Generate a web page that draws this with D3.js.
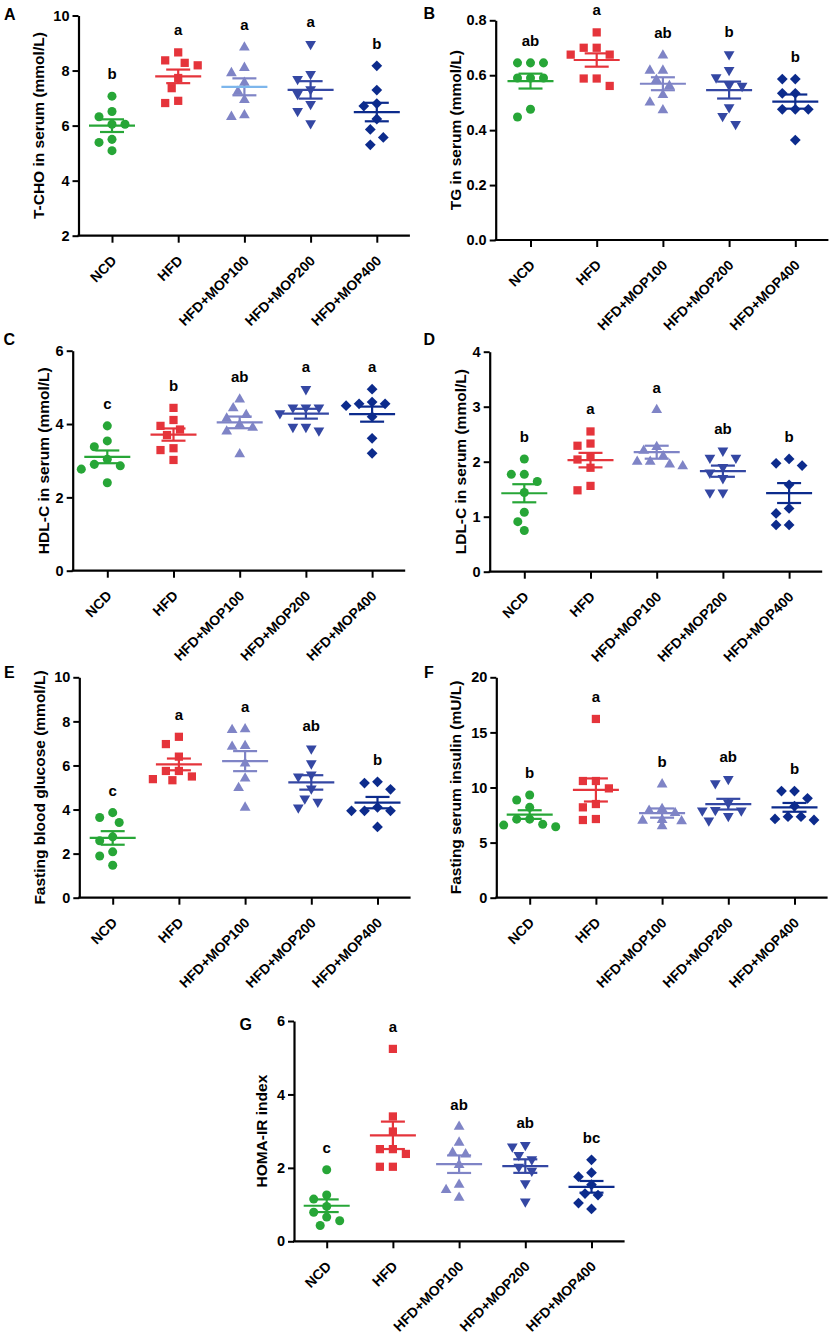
<!DOCTYPE html>
<html><head><meta charset="utf-8">
<script src="https://cdn.jsdelivr.net/npm/d3@7"></script>
<style>
body{margin:0;background:#fff;}
svg{display:block;}
text{font-family:"Liberation Sans",Arial,Helvetica,sans-serif;font-weight:bold;fill:#000;}
</style>
</head><body>
<svg id="chart" width="834" height="1339"></svg>
<script>
// ---------- DATA ----------
const groups = ["NCD", "HFD", "HFD+MOP100", "HFD+MOP200", "HFD+MOP400"];

// A: T-CHO (mmol/L)
const tchoValues = [
  [7.07, 6.51, 6.32, 6.05, 6.05, 5.50, 5.39, 5.09],
  [8.66, 8.37, 8.28, 8.19, 7.73, 7.36, 6.90, 6.82],
  [8.84, 8.10, 7.91, 7.56, 7.23, 6.93, 6.38, 6.32],
  [8.96, 7.87, 7.69, 7.32, 7.15, 6.78, 6.53, 6.08],
  [8.17, 7.29, 6.80, 6.71, 6.24, 5.86, 5.57, 5.30]
];
const tchoLetters = ["b", "a", "a", "a", "b"];
const tchoTicks = [2, 4, 6, 8, 10];

// B: TG (mmol/L)
const tgValues = [
  [0.645, 0.645, 0.645, 0.590, 0.590, 0.590, 0.476, 0.448],
  [0.756, 0.700, 0.700, 0.675, 0.675, 0.588, 0.588, 0.561],
  [0.672, 0.617, 0.617, 0.583, 0.561, 0.528, 0.501, 0.473],
  [0.676, 0.619, 0.592, 0.564, 0.561, 0.483, 0.451, 0.422],
  [0.586, 0.586, 0.534, 0.534, 0.476, 0.476, 0.476, 0.364]
];
const tgLetters = ["ab", "a", "ab", "b", "b"];
const tgTicks = [0, 0.2, 0.4, 0.6, 0.8];

// C: HDL-C (mmol/L)
const hdlValues = [
  [3.95, 3.54, 3.38, 3.04, 2.90, 2.86, 2.77, 2.40],
  [4.44, 4.11, 3.95, 3.85, 3.70, 3.34, 3.29, 3.02],
  [4.67, 4.43, 4.25, 4.15, 3.98, 3.90, 3.80, 3.18],
  [4.95, 4.45, 4.45, 4.45, 4.29, 3.92, 3.92, 3.82],
  [4.95, 4.60, 4.55, 4.55, 4.50, 4.20, 3.61, 3.20]
];
const hdlLetters = ["c", "b", "ab", "a", "a"];
const hdlTicks = [0, 2, 4, 6];

// D: LDL-C (mmol/L)
const ldlValues = [
  [2.05, 1.77, 1.77, 1.64, 1.44, 1.08, 0.91, 0.75],
  [2.55, 2.33, 2.29, 2.09, 2.04, 1.89, 1.56, 1.48],
  [2.94, 2.27, 2.20, 2.10, 2.00, 2.00, 1.95, 1.92],
  [2.20, 2.07, 2.07, 1.90, 1.80, 1.70, 1.44, 1.44],
  [2.05, 1.97, 1.93, 1.58, 1.15, 1.06, 0.85, 0.85]
];
const ldlLetters = ["b", "a", "a", "ab", "b"];
const ldlTicks = [0, 1, 2, 3, 4];

// E: Fasting blood glucose (mmol/L)
const fbgValues = [
  [3.86, 3.64, 3.41, 2.76, 2.58, 2.08, 1.89, 1.47],
  [7.30, 6.97, 6.40, 5.75, 5.75, 5.50, 5.38, 5.33],
  [7.65, 7.61, 6.89, 6.85, 6.09, 5.41, 4.98, 4.09],
  [6.77, 6.09, 5.59, 5.50, 4.95, 4.50, 4.35, 4.09],
  [5.26, 5.20, 4.92, 4.10, 3.94, 3.94, 3.94, 3.21]
];
const fbgLetters = ["c", "a", "a", "ab", "b"];
const fbgTicks = [0, 2, 4, 6, 8, 10];

// F: Fasting serum insulin (mU/L)
const finsValues = [
  [9.32, 8.87, 8.20, 7.13, 7.13, 6.67, 6.59, 6.44],
  [16.22, 10.59, 10.59, 9.92, 8.50, 8.20, 7.14, 7.05],
  [10.29, 8.05, 7.90, 7.70, 7.05, 7.00, 6.95, 6.50],
  [10.77, 10.38, 8.60, 7.95, 7.90, 7.90, 7.40, 7.00],
  [9.68, 9.68, 9.02, 8.30, 7.35, 7.35, 7.15, 7.05]
];
const finsLetters = ["b", "a", "b", "ab", "b"];
const finsTicks = [0, 5, 10, 15, 20];

// G: HOMA-IR index
const homaValues = [
  [1.95, 1.26, 1.15, 0.95, 0.79, 0.66, 0.56, 0.43],
  [5.24, 3.40, 2.99, 2.51, 2.51, 2.38, 2.03, 2.03],
  [3.12, 2.69, 2.41, 2.37, 2.08, 1.54, 1.40, 1.19],
  [2.62, 2.58, 2.35, 2.23, 2.03, 1.92, 1.58, 1.08],
  [2.22, 1.87, 1.76, 1.54, 1.30, 1.26, 1.04, 0.88]
];
const homaLetters = ["c", "a", "ab", "ab", "bc"];
const homaTicks = [0, 2, 4, 6];

// ---------- STYLE / LAYOUT ----------
const colors = ["#27a637", "#e5343b", "#7f84c6", "#3447a3", "#0c2b8c"];
const symbolKinds = ["circle", "square", "triangle", "triangleDown", "diamond"];
const step = 66.2;

const panels = [
  {id: "A", values: tchoValues, letters: tchoLetters, ticks: tchoTicks, title: "T-CHO in serum (mmol/L)", fmt: d3.format("d"),
   frame: {axisX: 78.5, first: 112, yTop: 15.5, yBot: 235.7, titleOff: 40, lx: 4, ly: 19.5}, meanColor: {2: "#7db6ec"}},
  {id: "B", values: tgValues, letters: tgLetters, ticks: tgTicks, title: "TG in serum (mmol/L)", fmt: d3.format(".1f"),
   frame: {axisX: 495.7, first: 530.5, yTop: 20.3, yBot: 240, titleOff: 40.5, lx: 423.5, ly: 18.5}},
  {id: "C", values: hdlValues, letters: hdlLetters, ticks: hdlTicks, title: "HDL-C in serum (mmol/L)", fmt: d3.format("d"),
   frame: {axisX: 72.7, first: 107.3, yTop: 350.7, yBot: 570.7, titleOff: 29.5, lx: 3.5, ly: 345}},
  {id: "D", values: ldlValues, letters: ldlLetters, ticks: ldlTicks, title: "LDL-C in serum (mmol/L)", fmt: d3.format("d"),
   frame: {axisX: 489.7, first: 524.3, yTop: 351.7, yBot: 571.7, titleOff: 29.5, lx: 423.5, ly: 344.5}},
  {id: "E", values: fbgValues, letters: fbgLetters, ticks: fbgTicks, title: "Fasting blood glucose (mmol/L)", fmt: d3.format("d"),
   frame: {axisX: 79.3, first: 112.7, yTop: 677.3, yBot: 897.7, titleOff: 40, lx: 4, ly: 677.7}},
  {id: "F", values: finsValues, letters: finsLetters, ticks: finsTicks, title: "Fasting serum insulin (mU/L)", fmt: d3.format("d"),
   frame: {axisX: 496.3, first: 529.7, yTop: 677.3, yBot: 897.7, titleOff: 41, lx: 424, ly: 677.7}},
  {id: "G", values: homaValues, letters: homaLetters, ticks: homaTicks, title: "HOMA-IR index", fmt: d3.format("d"),
   frame: {axisX: 294, first: 326.7, yTop: 1021, yBot: 1241.3, titleOff: 32, lx: 239.5, ly: 1030}}
];

const svg = d3.select("#chart");
svg.append("rect").attr("width", 834).attr("height", 1339).attr("fill", "#fff");

function symbolPath(kind) {
  switch (kind) {
    case "circle": return d3.symbol(d3.symbolCircle, 64)();
    case "square": return d3.symbol(d3.symbolSquare, 68)();
    case "triangle": return d3.symbol(d3.symbolTriangle, 50)();
    case "triangleDown": return d3.symbol(d3.symbolTriangle, 50)();
    case "diamond": return d3.symbol(d3.symbolSquare, 58)();
  }
}
function symbolRotate(kind) {
  return kind === "triangleDown" ? 180 : (kind === "diamond" ? 45 : 0);
}

// simple beeswarm: place points (by descending value) at nearest free lateral slot
function swarm(vals, y) {
  const order = d3.range(vals.length).sort((a, b) => vals[b] - vals[a]);
  const cands = [0, -6.5, 6.5, -13, 13, -19.5, 19.5, -26, 26];
  const placed = [];
  const off = new Array(vals.length).fill(0);
  order.forEach(i => {
    const py = y(vals[i]);
    for (const c of cands) {
      if (placed.every(p => Math.hypot(p[0] - c, p[1] - py) >= 10.5)) {
        off[i] = c; placed.push([c, py]); break;
      }
    }
  });
  return off;
}

panels.forEach(p => {
  const f = p.frame;
  const g = svg.append("g");
  const y = d3.scaleLinear().domain([p.ticks[0], p.ticks[p.ticks.length - 1]]).range([f.yBot, f.yTop]);
  const x = d3.scalePoint().domain(groups).range([f.first - step / 2, f.first + 4.5 * step]).padding(0.5);
  const xEnd = f.first + 4.5 * step;

  // Y axis
  const ya = g.append("g").attr("transform", `translate(${f.axisX},0)`)
    .call(d3.axisLeft(y).tickValues(p.ticks).tickSize(6).tickSizeOuter(0).tickPadding(3).tickFormat(p.fmt));
  ya.select(".domain").attr("stroke", "#000").attr("stroke-width", 2.2);
  ya.selectAll(".tick line").attr("stroke", "#000").attr("stroke-width", 2);
  ya.selectAll(".tick text").style("font-size", "14.5px").style("font-weight", "bold")
    .style("font-family", '"Liberation Sans", Arial, sans-serif').attr("fill", "#000");

  // X axis
  const xa = g.append("g").attr("transform", `translate(0,${f.yBot})`)
    .call(d3.axisBottom(x).tickSize(7).tickSizeOuter(0).tickFormat(""));
  xa.select(".domain").remove();
  xa.selectAll(".tick line").attr("stroke", "#000").attr("stroke-width", 2);
  g.append("line").attr("x1", f.axisX - 1).attr("x2", xEnd).attr("y1", f.yBot).attr("y2", f.yBot)
    .attr("stroke", "#000").attr("stroke-width", 2.2);

  // category labels rotated
  g.selectAll("text.cat").data(groups).join("text").attr("class", "cat")
    .attr("transform", d => `translate(${x(d) + 2},${f.yBot + 22.5}) rotate(-45)`)
    .attr("text-anchor", "end").attr("dy", "0.35em")
    .style("font-size", "14px").text(d => d);

  // axis title
  g.append("text")
    .attr("transform", `translate(${f.axisX - f.titleOff},${(f.yTop + f.yBot) / 2}) rotate(-90)`)
    .attr("text-anchor", "middle").attr("dy", "0.35em")
    .style("font-size", "15.5px").text(p.title);

  // panel letter
  g.append("text").attr("x", f.lx).attr("y", f.ly).style("font-size", "16px").text(p.id);

  // groups
  groups.forEach((grp, gi) => {
    const vals = p.values[gi];
    const cx = x(grp);
    const col = colors[gi];
    const kind = symbolKinds[gi];
    const offs = swarm(vals, y);
    const gg = g.append("g");
    gg.selectAll("path.pt").data(vals).join("path").attr("class", "pt")
      .attr("d", symbolPath(kind))
      .attr("transform", (d, i) => `translate(${cx + offs[i]},${y(d)}) rotate(${symbolRotate(kind)})`)
      .attr("fill", col);

    const m = d3.mean(vals);
    const sem = d3.deviation(vals) / Math.sqrt(vals.length);
    const mc = (p.meanColor && p.meanColor[gi]) || col;
    const lw = 2.2;
    gg.append("line").attr("x1", cx).attr("x2", cx).attr("y1", y(m - sem)).attr("y2", y(m + sem))
      .attr("stroke", col).attr("stroke-width", lw);
    [m - sem, m + sem].forEach(v => {
      gg.append("line").attr("x1", cx - 12).attr("x2", cx + 12).attr("y1", y(v)).attr("y2", y(v))
        .attr("stroke", col).attr("stroke-width", lw);
    });
    gg.append("line").attr("x1", cx - 23).attr("x2", cx + 23).attr("y1", y(m)).attr("y2", y(m))
      .attr("stroke", mc).attr("stroke-width", lw);

    // significance letter
    g.append("text").attr("x", cx).attr("y", y(d3.max(vals)) - 17)
      .attr("text-anchor", "middle").style("font-size", "15px").text(p.letters[gi]);
  });
});
</script>
</body></html>
